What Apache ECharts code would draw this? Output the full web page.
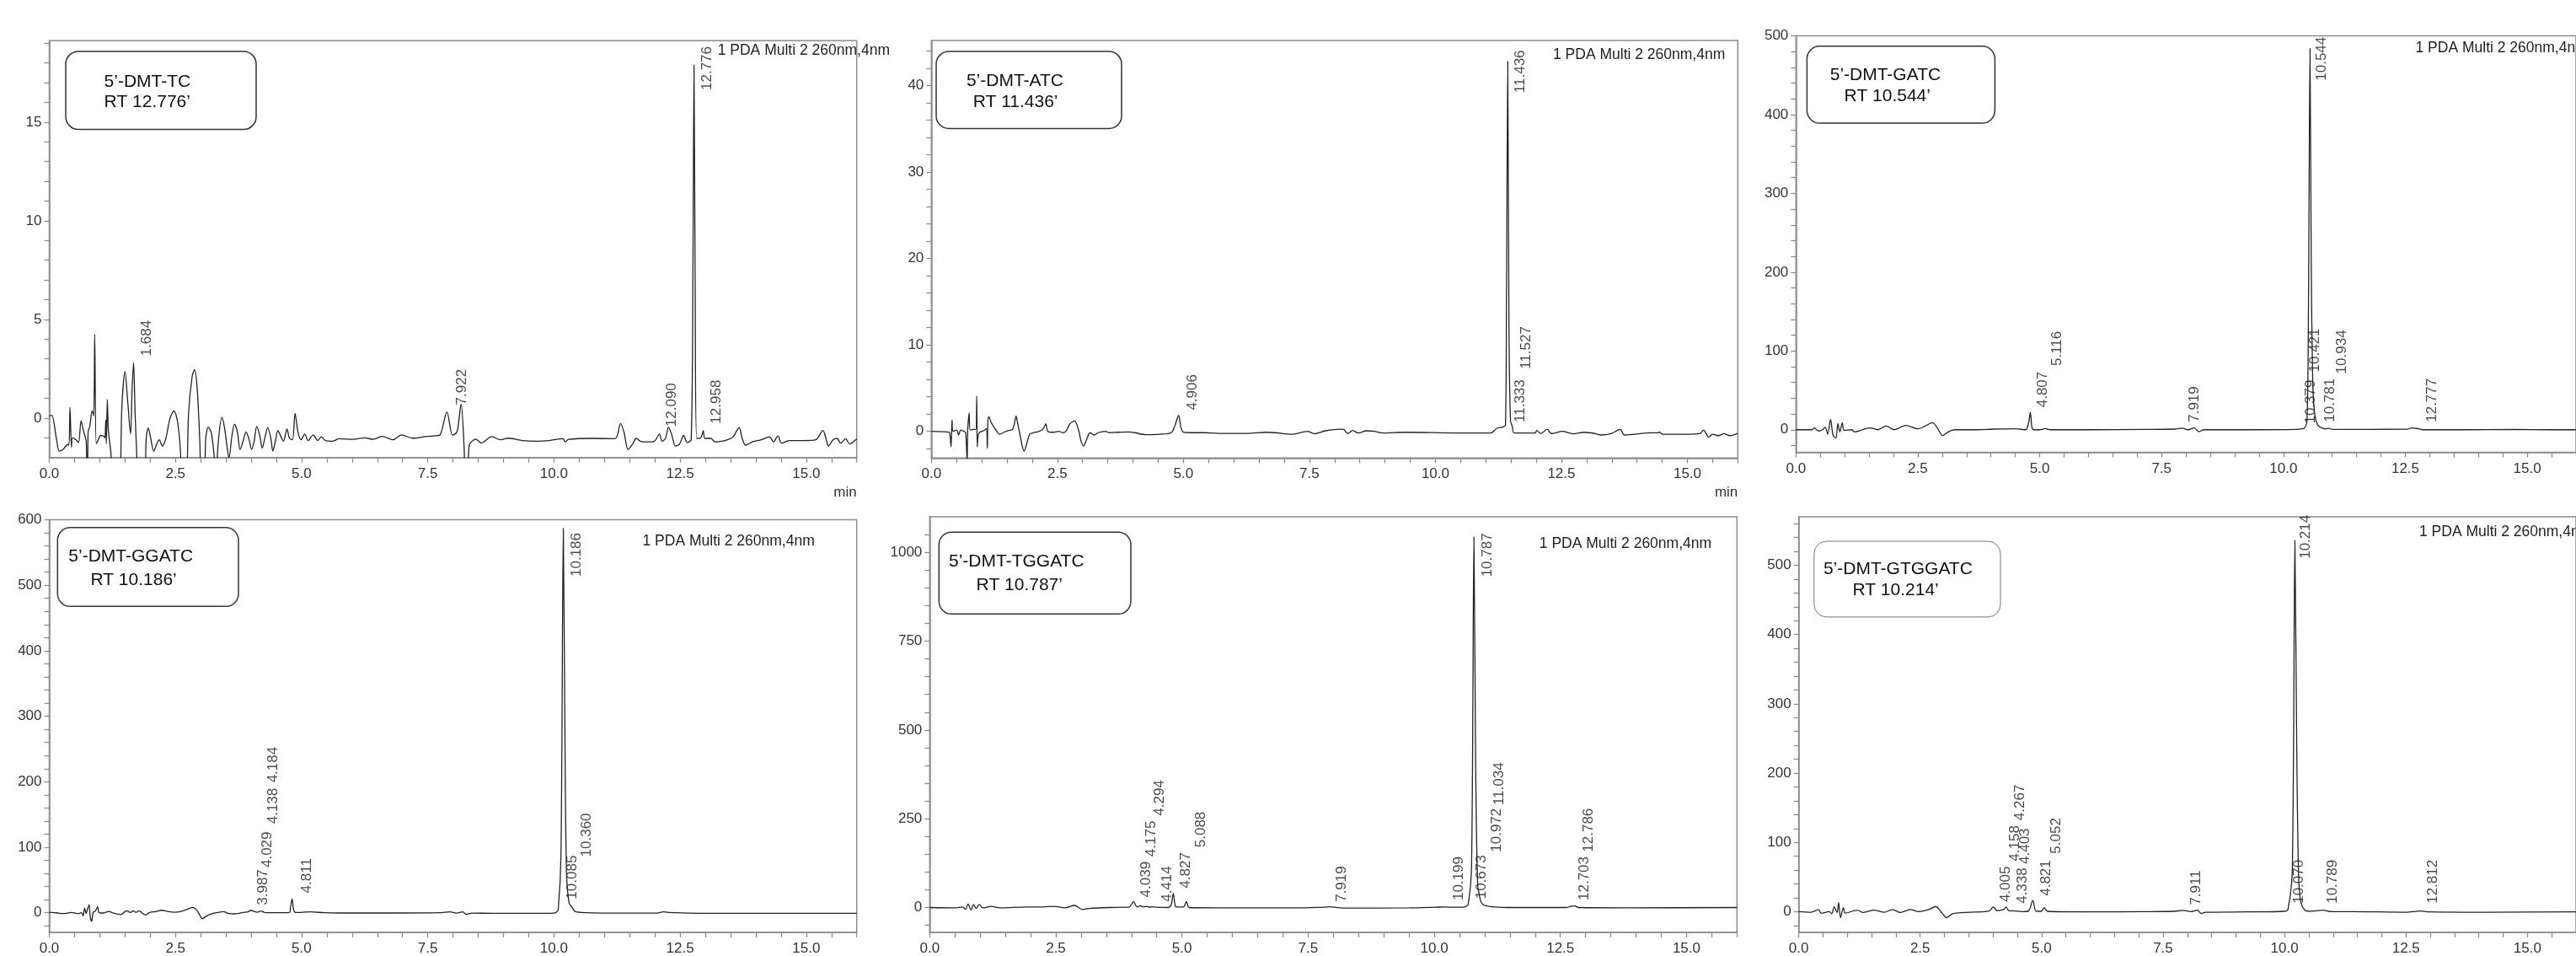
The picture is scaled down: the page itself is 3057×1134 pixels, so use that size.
<!DOCTYPE html>
<html><head><meta charset="utf-8">
<script src="https://cdn.jsdelivr.net/npm/echarts@6/dist/echarts.min.js"></script>
<style>html,body{margin:0;padding:0;background:#fff}#c{width:3057px;height:1134px}</style>
</head><body><div id="c"></div>
<script>
// ---------- names ----------
const sampleNames = ["5’-DMT-TC","5’-DMT-ATC","5’-DMT-GATC","5’-DMT-GGATC","5’-DMT-TGGATC","5’-DMT-GTGGATC"];
const rtNotes = ["RT 12.776’","RT 11.436’","RT 10.544’","RT 10.186’","RT 10.787’","RT 10.214’"];
const detectorNote = "1 PDA Multi 2 260nm,4nm";

// ---------- traces [min, mAU] ----------
const traceTC = [[0.00,0.11],[0.05,0.14],[0.14,-1.03],[0.20,-1.68],[0.28,-1.57],[0.36,-1.34],[0.39,-1.38],[0.41,0.54],[0.44,-1.48],[0.46,-1.0],[0.53,-1.1],[0.58,-1.24],[0.63,-0.14],[0.68,-0.67],[0.73,-1.17],[0.74,-2.0],[0.755,-3.5],[0.77,-0.67],[0.80,-0.46],[0.85,0.36],[0.88,0.11],[0.90,4.25],[0.93,-1.31],[0.97,-1.1],[1.02,-0.88],[1.07,-0.91],[1.10,-1.0],[1.12,-0.1],[1.13,-1.3],[1.15,0.94],[1.17,-0.6],[1.22,-1.74],[1.27,-3.5],[1.38,-3.5],[1.44,0.68],[1.50,2.36],[1.55,0.97],[1.61,-0.81],[1.64,1.4],[1.67,2.82],[1.70,0.26],[1.73,-1.67],[1.76,-3.5],[1.88,-3.5],[1.92,-1.03],[1.96,-0.5],[2.01,-1.03],[2.07,-1.68],[2.13,-1.31],[2.18,-1.1],[2.24,-1.42],[2.31,-1.03],[2.39,-0.03],[2.47,0.36],[2.54,-0.17],[2.59,-1.31],[2.65,-3.5],[2.71,-3.5],[2.76,0.26],[2.83,2.1],[2.88,2.46],[2.93,1.54],[2.98,-1.03],[3.02,-3.5],[3.07,-3.5],[3.10,-1.03],[3.15,-0.46],[3.21,-0.74],[3.26,-1.74],[3.30,-3.0],[3.35,-1.17],[3.42,0.04],[3.47,-0.46],[3.53,-1.6],[3.56,-2.02],[3.62,-0.88],[3.67,-0.31],[3.73,-0.74],[3.78,-1.6],[3.84,-1.17],[3.90,-0.7],[3.96,-1.1],[4.01,-1.6],[4.06,-1.17],[4.11,-0.43],[4.17,-0.88],[4.22,-1.52],[4.27,-1.03],[4.33,-0.48],[4.39,-1.03],[4.43,-1.67],[4.48,-1.17],[4.53,-0.63],[4.59,-0.95],[4.64,-1.17],[4.71,-0.56],[4.76,-1.03],[4.82,-1.1],[4.87,0.23],[4.93,-0.74],[4.99,-1.1],[5.06,-0.81],[5.13,-1.14],[5.23,-0.85],[5.32,-1.14],[5.39,-0.95],[5.47,-1.14],[5.61,-1.17],[5.75,-1.05],[6.03,-1.08],[6.25,-1.0],[6.42,-1.08],[6.59,-0.93],[6.81,-1.1],[6.98,-0.85],[7.20,-1.02],[7.48,-0.93],[7.64,-0.9],[7.74,-0.86],[7.88,0.31],[7.99,-0.86],[8.08,-0.7],[8.16,0.71],[8.22,-1.5],[8.25,-3.5],[8.29,-3.5],[8.32,-1.4],[8.45,-1.07],[8.56,-1.26],[8.77,-0.94],[8.94,-1.1],[9.10,-1.02],[9.38,-1.14],[9.65,-1.17],[9.93,-1.13],[10.18,-1.05],[10.22,-1.21],[10.29,-1.08],[10.77,-1.03],[11.21,-1.05],[11.32,-0.28],[11.39,-0.74],[11.47,-1.6],[11.56,-1.31],[11.63,-1.03],[11.71,-1.17],[11.83,-1.21],[11.99,-1.17],[12.09,-0.81],[12.14,-1.17],[12.21,-1.03],[12.27,-0.46],[12.33,-0.81],[12.41,-1.42],[12.49,-1.31],[12.57,-0.88],[12.64,-1.24],[12.72,-1.1],[12.755,8.0],[12.776,17.9],[12.80,6.0],[12.83,-1.03],[12.91,-1.0],[12.96,-0.64],[12.99,-1.03],[13.11,-1.03],[13.19,-1.21],[13.27,-1.2],[13.44,-1.1],[13.55,-0.95],[13.67,-0.48],[13.73,-1.03],[13.80,-1.38],[13.94,-1.2],[14.11,-1.1],[14.27,-0.95],[14.35,-1.2],[14.44,-0.91],[14.51,-1.27],[14.66,-1.14],[14.94,-1.14],[15.19,-1.1],[15.33,-0.63],[15.39,-1.03],[15.44,-1.42],[15.53,-1.1],[15.61,-1.03],[15.68,-1.27],[15.78,-1.05],[15.86,-1.31],[16.0,-1.05]];

const traceATC = [[0,0],[0.30,-0.07],[0.36,-0.15],[0.39,-1.79],[0.41,1.3],[0.43,0],[0.50,0.16],[0.54,-0.42],[0.58,0.16],[0.65,0],[0.68,-0.15],[0.71,-3.5],[0.72,0],[0.75,2.11],[0.77,0.16],[0.83,0.23],[0.88,0.23],[0.90,4.07],[0.91,-1.79],[0.94,-0.23],[1.04,0.1],[1.09,0.33],[1.11,-1.95],[1.12,1.14],[1.14,1.69],[1.19,0.98],[1.28,0.16],[1.36,-0.33],[1.44,-0.1],[1.53,0.1],[1.61,0.23],[1.65,0.98],[1.68,1.79],[1.71,0.98],[1.75,-0.15],[1.80,-1.63],[1.84,-2.28],[1.89,-1.46],[1.95,-0.33],[2.03,-0.15],[2.14,0],[2.22,0.33],[2.27,0.88],[2.31,0],[2.42,-0.1],[2.53,0],[2.61,-0.15],[2.67,0],[2.75,0.88],[2.84,1.2],[2.92,0.16],[2.97,-1.14],[3.02,-1.69],[3.07,-1.07],[3.15,-0.15],[3.23,-0.42],[3.31,-0.15],[3.45,0],[3.53,-0.15],[3.70,-0.1],[3.92,-0.07],[4.03,-0.15],[4.26,-0.39],[4.53,-0.33],[4.76,-0.15],[4.83,0.65],[4.906,1.85],[4.95,0.49],[5.0,-0.1],[5.15,-0.15],[5.42,-0.15],[5.70,-0.23],[5.98,-0.23],[6.26,-0.23],[6.65,-0.1],[6.82,-0.15],[7.16,-0.33],[7.46,0],[7.60,-0.26],[7.82,0.07],[8.10,0.26],[8.18,0.23],[8.26,-0.25],[8.36,0.1],[8.47,-0.18],[8.63,0.07],[8.79,0],[8.96,-0.18],[9.39,-0.1],[10.47,-0.18],[11.10,-0.18],[11.22,0.36],[11.333,0.5],[11.39,0.7],[11.41,15],[11.436,42.8],[11.46,12],[11.49,1.2],[11.527,0.55],[11.56,-0.18],[11.98,-0.18],[12.01,0.1],[12.09,-0.25],[12.22,0.25],[12.30,-0.25],[12.52,0],[12.73,-0.28],[12.95,-0.1],[13.17,-0.25],[13.28,-0.42],[13.50,-0.23],[13.62,0.16],[13.67,0.23],[13.75,-0.42],[13.95,-0.33],[14.28,-0.16],[14.42,-0.16],[14.45,-0.07],[14.50,-0.33],[14.95,-0.33],[15.25,-0.26],[15.32,0.16],[15.42,-0.65],[15.50,-0.33],[15.61,-0.49],[15.73,-0.26],[15.84,-0.49],[16.0,-0.23]];

const traceGATC = [[0,0],[0.33,0],[0.38,2.4],[0.46,-1.6],[0.54,0],[0.60,3],[0.65,-5.5],[0.71,13],[0.76,-6.7],[0.82,-10.6],[0.86,7.8],[0.90,-2.7],[0.95,9],[0.99,-0.8],[1.14,0],[1.20,-2.7],[1.36,0],[1.52,2.4],[1.68,0],[1.85,4.7],[2.01,0],[2.25,5.5],[2.50,1.2],[2.66,5],[2.80,9],[2.90,2.4],[3.01,-7.5],[3.12,-2.7],[3.26,0],[3.64,0],[4.08,0.8],[4.51,1.2],[4.71,0],[4.77,8],[4.807,22],[4.84,3],[4.88,0],[5.0,0],[5.116,1.5],[5.22,0],[6.03,0],[7.12,0.4],[7.77,0.8],[7.919,2],[8.04,0],[8.17,2.4],[8.26,-2.4],[8.37,0],[9.29,0],[10.27,0.4],[10.379,1.2],[10.421,1.6],[10.48,10],[10.51,130],[10.544,484],[10.57,210],[10.60,60],[10.64,20],[10.70,6],[10.781,2.5],[10.85,1],[10.934,1.8],[11.0,0.4],[12.55,0.8],[12.63,2.4],[12.777,1.2],[12.85,0],[13.64,0],[14.73,0.4],[15.5,0],[16.0,0]];

const traceGGATC = [[0,0.85],[0.17,-0.4],[0.28,-1.3],[0.44,0.4],[0.58,-1.3],[0.64,0],[0.67,-4.7],[0.70,7.2],[0.73,-1.3],[0.76,6.4],[0.79,12.4],[0.81,-5.5],[0.84,-13.2],[0.87,0.85],[0.91,2.1],[0.93,5.1],[0.96,9.4],[0.98,0.85],[1.06,-0.4],[1.18,2.1],[1.25,0],[1.42,-2.6],[1.53,3],[1.61,0.4],[1.67,3],[1.72,0.4],[1.78,3],[1.84,-0.4],[1.90,-3.4],[2.00,0.85],[2.11,1.7],[2.22,3.8],[2.34,2.1],[2.48,0.85],[2.61,2.1],[2.73,5.1],[2.84,8.1],[2.92,4.3],[2.98,-3.4],[3.03,-9],[3.12,-4.7],[3.23,-1.3],[3.34,0.4],[3.45,1.7],[3.56,-1.3],[3.67,-1.7],[3.84,0.4],[3.94,1.3],[3.987,3.8],[4.07,1.7],[4.13,0.85],[4.184,2.6],[4.29,0],[4.56,0],[4.76,0.4],[4.78,8],[4.811,21.3],[4.84,5],[4.88,0.4],[5.18,1.3],[5.45,0],[5.73,-0.4],[6.29,-0.4],[6.84,-0.4],[7.73,0],[7.94,1.4],[8.07,-0.5],[8.19,1.4],[8.26,-2.3],[8.37,-0.5],[8.80,-0.9],[9.89,-0.9],[10.04,0.5],[10.085,5],[10.14,90],[10.186,587],[10.22,250],[10.25,60],[10.30,15],[10.36,8],[10.42,2],[10.54,0.5],[10.97,-0.5],[12.05,-0.5],[12.16,1.4],[12.27,0.5],[13.13,-0.9],[14.22,-0.9],[16.0,-0.9]];

const traceTGGATC = [[0,0],[0.5,-0.9],[0.65,1.7],[0.71,-5],[0.76,10],[0.82,-7],[0.87,8.5],[0.92,-2.6],[0.98,8.5],[1.05,-0.9],[1.22,3.4],[1.38,-0.9],[1.92,1.7],[2.24,1.7],[2.46,3.4],[2.68,-0.9],[2.87,6],[3.02,-5],[3.16,-2.6],[3.54,0],[3.87,0.9],[3.96,1.7],[4.039,16],[4.11,1.7],[4.175,5],[4.24,1.7],[4.294,3.4],[4.36,1.2],[4.414,2],[4.47,0.9],[4.73,0],[4.79,10],[4.827,40],[4.87,3],[4.91,1.7],[5.03,1.7],[5.088,17],[5.14,0],[5.71,-0.9],[7.33,-0.9],[7.85,0.9],[7.919,2],[8.19,-1.7],[9.49,-0.9],[10.03,0.9],[10.199,1.7],[10.30,0.9],[10.60,1.7],[10.673,10],[10.74,120],[10.787,1043],[10.82,420],[10.86,70],[10.92,18],[10.972,8],[11.034,5],[11.1,2.5],[11.44,0],[12.63,0],[12.703,3.4],[12.786,4.3],[12.86,0],[13.82,-0.9],[16.0,0]];

const traceGTGGATC = [[0,0],[0.25,-0.9],[0.41,3],[0.46,-2.2],[0.63,0],[0.68,-3],[0.73,6.6],[0.79,-1.3],[0.82,13],[0.86,-8.7],[0.92,5.7],[0.96,-2.2],[1.20,2.2],[1.33,-1.3],[1.55,2.2],[1.76,-0.9],[1.93,3],[2.09,-1.3],[2.30,3],[2.47,0],[2.68,3],[2.82,7.4],[2.95,-2.2],[3.04,-8.7],[3.17,-3],[3.39,-1.3],[3.82,0],[3.93,1.3],[4.005,6.6],[4.09,1.3],[4.158,2.2],[4.22,3],[4.267,6.6],[4.31,2.2],[4.338,1.3],[4.403,1.3],[4.63,0],[4.73,0.9],[4.821,16],[4.88,0.9],[4.99,0.4],[5.052,5.7],[5.12,0.4],[5.99,-0.4],[7.07,0],[7.72,0.4],[7.911,1.7],[8.08,0],[8.21,2],[8.28,-2.6],[8.37,-0.9],[9.24,-0.4],[9.99,0.4],[10.070,3],[10.16,60],[10.214,536],[10.25,250],[10.29,50],[10.34,12],[10.42,2],[10.52,0.5],[10.789,2],[10.97,0],[11.40,0],[12.49,-0.9],[12.812,0.9],[12.97,-0.4],[14.11,-0.9],[16.0,-0.4]];

// ---------- peak labels [text, x(min), y(mAU)] ----------
const labelsTC = [["1.684",1.80,3.12],["7.922",8.04,0.64],["12.090",12.20,-0.46],["12.776",12.91,16.6],["12.958",13.09,-0.31]];
const labelsATC = [["4.906",5.05,2.4],["11.333",11.56,1.0],["11.436",11.56,39.1],["11.527",11.67,7.15]];
const labelsGATC = [["4.807",4.92,27.8],["5.116",5.22,80.5],["7.919",8.04,9.1],["10.379",10.43,7.2],["10.421",10.51,72.6],["10.544",10.65,442.5],["10.781",10.82,9.1],["10.934",11.07,70.5],["12.777",12.91,9.1]];
const labelsGGATC = [["3.987",4.10,10.9],["4.029",4.18,68.4],["4.138",4.30,135],["4.184",4.30,198],["4.811",4.97,29.3],["10.085",10.24,20],["10.186",10.32,512.5],["10.360",10.51,84.6]];
const labelsTGGATC = [["4.039",4.16,27.5],["4.175",4.26,142],["4.294",4.43,257],["4.414",4.57,14.7],["4.827",4.95,53],["5.088",5.24,168],["7.919",8.03,14.7],["10.199",10.35,19],["10.673",10.81,23],["10.787",10.92,929.5],["10.972",11.11,155],["11.034",11.16,287],["12.703",12.84,19],["12.786",12.92,155]];
const labelsGTGGATC = [["4.005",4.12,13.1],["4.158",4.31,72],["4.267",4.41,131],["4.338",4.47,11],["4.403",4.52,68],["4.821",4.96,22],["5.052",5.17,83],["7.911",8.04,8.8],["10.070",10.16,11],["10.214",10.30,508.8],["10.789",10.86,11],["12.812",12.92,11]];

// ---------- ticks ----------
const xMajor = [0,2.5,5,7.5,10,12.5,15];
const xMinor = [0,0.5,1,1.5,2,2.5,3,3.5,4,4.5,5,5.5,6,6.5,7,7.5,8,8.5,9,9.5,10,10.5,11,11.5,12,12.5,13,13.5,14,14.5,15,15.5,16];
const yMajorTC = [0,5,10,15];
const yMinorTC = [-1,0,1,2,3,4,5,6,7,8,9,10,11,12,13,14,15,16,17,18,19];
const yMajorATC = [0,10,20,30,40];
const yMinorATC = [-2,0,2,4,6,8,10,12,14,16,18,20,22,24,26,28,30,32,34,36,38,40,42,44];
const yMajorGATC = [0,100,200,300,400,500];
const yMinorGATC = [-20,0,20,40,60,80,100,120,140,160,180,200,220,240,260,280,300,320,340,360,380,400,420,440,460,480,500];
const yMajorGGATC = [0,100,200,300,400,500,600];
const yMinorGGATC = [-20,0,20,40,60,80,100,120,140,160,180,200,220,240,260,280,300,320,340,360,380,400,420,440,460,480,500,520,540,560,580,600];
const yMajorTGGATC = [0,250,500,750,1000];
const yMinorTGGATC = [-50,0,50,100,150,200,250,300,350,400,450,500,550,600,650,700,750,800,850,900,950,1000,1050];
const yMajorGTGGATC = [0,100,200,300,400,500];
const yMinorGTGGATC = [-20,0,20,40,60,80,100,120,140,160,180,200,220,240,260,280,300,320,340,360,380,400,420,440,460,480,500,520,540,560];

// ---------- layout ----------
const panels = [
  {grid:[58.5,48.3,958.2,494.4], y:[-2,19.13], trace:traceTC, labels:labelsTC, yMaj:yMajorTC, yMin:yMinorTC,
   box:[78,61,226,92.5], t1:[123.6,97], t2:[123.6,121], det:[851.7,60], min:[1016.7,584], boxColor:'#333', boxW:1.5},
  {grid:[1105.3,48.1,957,495.2], y:[-3.08,45.2], trace:traceATC, labels:labelsATC, yMaj:yMajorATC, yMin:yMinorATC,
   box:[1111,61,220,91.4], t1:[1146.9,96.2], t2:[1154.7,121.3], det:[1843,64.7], min:[2062.3,584], boxColor:'#333', boxW:1.5},
  {grid:[2131.3,42.5,957.8,494], y:[-28.6,500], trace:traceGATC, labels:labelsGATC, yMaj:yMajorGATC, yMin:yMinorGATC,
   box:[2144.4,54.8,223,91.3], t1:[2171.7,88.8], t2:[2188.6,114.7], det:[2866.5,57.3], min:null, boxColor:'#333', boxW:1.5},
  {grid:[58.5,616.5,958.2,492.5], y:[-30,600], trace:traceGGATC, labels:labelsGGATC, yMaj:yMajorGGATC, yMin:yMinorGGATC,
   box:[68.3,625.8,214.7,93.5], t1:[81.3,659.9], t2:[107.4,688], det:[762.5,642], min:null, boxColor:'#333', boxW:1.5},
  {grid:[1103.3,613,958,494.8], y:[-70,1100], trace:traceTGGATC, labels:labelsTGGATC, yMaj:yMajorTGGATC, yMin:yMinorTGGATC,
   box:[1114.3,631.2,227.7,97.1], t1:[1126,666.4], t2:[1158.6,694.1], det:[1826.8,645.5], min:null, boxColor:'#333', boxW:1.5},
  {grid:[2134.6,613,961,494.8], y:[-30,570], trace:traceGTGGATC, labels:labelsGTGGATC, yMaj:yMajorGTGGATC, yMin:yMinorGTGGATC,
   box:[2152.8,642,221.2,89.9], t1:[2163.9,675], t2:[2198.4,700.2], det:[2871,631.2], min:null, boxColor:'#777', boxW:1}
];

const frame = '#8c8c8c';
const grids = [], xAxes = [], yAxes = [], series = [], graphics = [];
panels.forEach((p, i) => {
  grids.push({left:p.grid[0], top:p.grid[1], width:p.grid[2], height:p.grid[3], show:true,
              borderColor:frame, borderWidth:1.5, backgroundColor:'transparent', containLabel:false});
  xAxes.push({type:'value', gridIndex:i, min:0, max:16,
    axisLine:{show:true, onZero:false, lineStyle:{color:frame, width:1.5}},
    axisTick:{show:true, customValues:xMinor, length:6, lineStyle:{color:frame, width:1.3}},
    axisLabel:{show:true, customValues:xMajor, formatter:v=>v.toFixed(1), margin:11,
               fontFamily:'Liberation Sans', fontSize:17, color:'#333'},
    splitLine:{show:false}});
  yAxes.push({type:'value', gridIndex:i, min:p.y[0], max:p.y[1],
    axisLine:{show:true, onZero:false, lineStyle:{color:frame, width:1.5}},
    axisTick:{show:true, customValues:p.yMin, length:6, lineStyle:{color:frame, width:1.3}},
    axisLabel:{show:true, customValues:p.yMaj, margin:9, formatter:v=>String(v),
               fontFamily:'Liberation Sans', fontSize:17, color:'#333'},
    splitLine:{show:false}});
  series.push({type:'line', xAxisIndex:i, yAxisIndex:i, data:p.trace, symbol:'none', showSymbol:false,
    smooth:0.3, clip:true, lineStyle:{color:'#222', width:1.3}, animation:false, silent:true});
  series.push({type:'scatter', xAxisIndex:i, yAxisIndex:i, symbolSize:1, clip:false,
    data:p.labels.map(l => [l[1], l[2], l[0]]),
    itemStyle:{color:'rgba(0,0,0,0)'}, animation:false, silent:true,
    label:{show:true, formatter:q=>q.data[2], rotate:90, position:[0,0], align:'left', verticalAlign:'top',
           fontFamily:'Liberation Sans', fontSize:17, color:'#1a1a1a'}});
  graphics.push({type:'rect', shape:{x:p.box[0], y:p.box[1], width:p.box[2], height:p.box[3], r:15},
                 style:{fill:'none', stroke:p.boxColor, lineWidth:p.boxW}, z:100});
  graphics.push({type:'text', x:p.t1[0], y:p.t1[1], z:100,
                 style:{text:sampleNames[i], fontFamily:'Liberation Sans', fontSize:21, fill:'#111', align:'left', verticalAlign:'middle'}});
  graphics.push({type:'text', x:p.t2[0], y:p.t2[1], z:100,
                 style:{text:rtNotes[i], fontFamily:'Liberation Sans', fontSize:21, fill:'#111', align:'left', verticalAlign:'middle'}});
  graphics.push({type:'text', x:p.det[0], y:p.det[1], z:100,
                 style:{text:detectorNote, fontFamily:'Liberation Sans', fontSize:17.5, fill:'#222', align:'left', verticalAlign:'middle'}});
  if (p.min) graphics.push({type:'text', x:p.min[0], y:p.min[1], z:100,
                 style:{text:'min', fontFamily:'Liberation Sans', fontSize:17, fill:'#333', align:'right', verticalAlign:'middle'}});
});

const chart = echarts.init(document.getElementById('c'), null, {renderer:'canvas'});
chart.setOption({backgroundColor:'#fff', animation:false, grid:grids, xAxis:xAxes, yAxis:yAxes, series:series, graphic:graphics});
</script></body></html>
